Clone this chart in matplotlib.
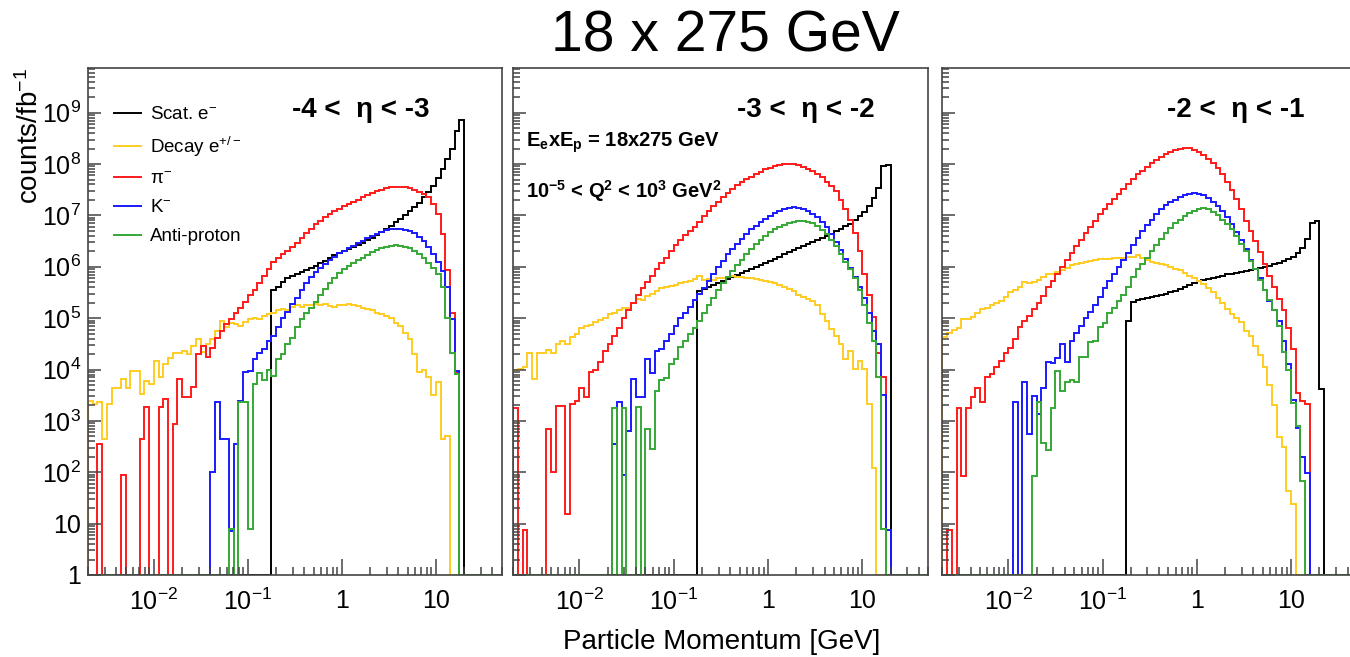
import numpy as np
import matplotlib
matplotlib.use("Agg")
import matplotlib.pyplot as plt
from matplotlib.ticker import LogLocator, NullFormatter

plt.rcParams["font.family"] = ["Liberation Sans", "DejaVu Sans"]
plt.rcParams["mathtext.fontset"] = "custom"
plt.rcParams["mathtext.rm"] = "Liberation Sans"
plt.rcParams["mathtext.it"] = "Liberation Sans:italic"
plt.rcParams["mathtext.bf"] = "Liberation Sans:bold"
plt.rcParams["mathtext.default"] = "regular"

# 88 log bins, 20 per decade, from 10^-2.7 to 10^1.7 GeV
edges = np.logspace(-2.7, 1.7, 89)

# log10(counts/fb^-1) per bin, 0 = empty bin
# ---- -4 < eta < -3 ----
p1_scat = [0] * 39 + [
    5.55, 5.6, 5.7, 5.78, 5.82, 5.86, 5.9, 5.94, 5.98, 6.02,
    6.07, 6.12, 6.17, 6.22, 6.26, 6.3, 6.34, 6.38, 6.42, 6.47,
    6.52, 6.57, 6.62, 6.68, 6.74, 6.8, 6.87, 6.94, 7.01, 7.08,
    7.16, 7.25, 7.35, 7.46, 7.58, 7.72, 7.9, 8.1, 8.3, 8.65,
    8.85] + [0] * 8
p1_decay = [
    3.39, 3.33, 3.36, 2.65, 3.33, 3.65, 3.65, 3.81, 3.65, 3.98, 3.98,
    3.52, 3.78, 3.72, 4.16, 3.85, 4.11, 4.22, 4.33, 4.33, 4.37, 4.3,
    4.45, 4.6, 4.35, 4.5, 4.6, 4.75, 4.95, 4.82, 4.9, 4.88, 4.85,
    4.92, 4.98, 5.0, 4.98, 5.05, 5.08, 5.1, 5.15, 5.18, 5.15, 5.22,
    5.25, 5.22, 5.26, 5.25, 5.28, 5.26, 5.28, 5.24, 5.22, 5.25, 5.26,
    5.28, 5.25, 5.24, 5.2, 5.18, 5.15, 5.1, 5.08, 5.05, 5.0, 4.9,
    4.85, 4.72, 4.6, 4.3, 3.95, 4.0, 3.85, 3.5, 3.75, 2.65, 2.7,
    0, 0, 0, 0, 0, 0, 0, 0, 0, 0, 0]
p1_pion = [
    0, 0, 2.55, 0, 0, 0, 0, 1.94, 0, 0, 0,
    2.65, 3.27, 0, 0, 3.27, 3.42, 0, 2.94, 3.81, 3.46, 3.46,
    3.66, 4.3, 4.45, 4.25, 4.42, 4.62, 4.75, 4.88, 4.98, 5.1, 5.2,
    5.32, 5.45, 5.55, 5.68, 5.82, 5.96, 6.1, 6.17, 6.24, 6.31, 6.38,
    6.47, 6.56, 6.65, 6.74, 6.83, 6.9, 6.96, 7.02, 7.08, 7.13, 7.18,
    7.23, 7.27, 7.31, 7.35, 7.39, 7.43, 7.47, 7.5, 7.53, 7.55, 7.56,
    7.56, 7.55, 7.53, 7.5, 7.46, 7.41, 7.35, 7.22, 7.03, 6.64, 5.93,
    5.1, 3.95, 0, 0, 0, 0, 0, 0, 0, 0, 0]
p1_kaon = [0] * 26 + [
    2.0, 3.36, 2.65, 2.65, 0.86, 2.55, 3.39,
    3.96, 3.98, 4.2, 4.33, 4.4, 4.55, 4.65, 4.82, 5.0, 5.12, 5.27,
    5.4, 5.55, 5.68, 5.8, 5.9, 5.98, 6.06, 6.13, 6.2, 6.26, 6.31,
    6.36, 6.41, 6.46, 6.51, 6.56, 6.6, 6.64, 6.68, 6.71, 6.73, 6.74,
    6.74, 6.72, 6.69, 6.65, 6.58, 6.5, 6.38, 6.25, 6.1, 5.92, 5.6,
    4.99, 3.98] + [0] * 9
p1_pbar = [0] * 30 + [
    0.89, 0, 3.36,
    3.36, 0.89, 3.72, 3.94, 3.8, 4.0, 3.88, 4.2, 4.3, 4.5, 4.62,
    4.82, 4.98, 5.1, 5.2, 5.32, 5.45, 5.57, 5.68, 5.78, 5.87, 5.95,
    6.02, 6.08, 6.13, 6.18, 6.23, 6.28, 6.32, 6.36, 6.39, 6.41, 6.42,
    6.41, 6.39, 6.36, 6.31, 6.25, 6.17, 6.08, 5.98, 5.85, 5.6, 5.0,
    4.33, 3.92] + [0] * 9

# ---- -3 < eta < -2 ----
p2_scat = [0] * 39 + [
    5.52, 5.56, 5.6, 5.64, 5.68,
    5.72, 5.76, 5.8, 5.84, 5.88, 5.92, 5.96, 6.0, 6.04, 6.08, 6.12,
    6.16, 6.2, 6.24, 6.28, 6.32, 6.36, 6.4, 6.44, 6.48, 6.52, 6.56,
    6.6, 6.64, 6.69, 6.74, 6.79, 6.84, 6.91, 6.98, 7.07, 7.18, 7.33,
    7.53, 7.96, 7.99] + [0] * 8
p2_decay = [
    4.0, 4.02, 4.05, 4.33, 3.81, 4.33, 4.32, 4.38, 4.33, 4.5, 4.55,
    4.5, 4.63, 4.7, 4.8, 4.84, 4.87, 4.92, 4.96, 5.0, 5.08, 5.1,
    5.15, 5.2, 5.2, 5.3, 5.38, 5.36, 5.44, 5.48, 5.52, 5.58, 5.6,
    5.62, 5.65, 5.68, 5.7, 5.72, 5.76, 5.83, 5.74, 5.76, 5.75, 5.78,
    5.79, 5.8, 5.82, 5.8, 5.8, 5.79, 5.78, 5.77, 5.75, 5.72, 5.7,
    5.68, 5.65, 5.61, 5.57, 5.52, 5.46, 5.42, 5.38, 5.33, 5.25, 5.08,
    4.95, 4.78, 4.65, 4.5, 4.2, 4.37, 4.01, 4.17, 4.01, 3.33, 2.09,
    0, 0, 0, 0, 0, 0, 0, 0, 0, 0, 0]
p2_pion = [
    3.26, 0, 0.87, 0, 0, 0, 0, 2.84, 2.0, 3.29, 3.29,
    1.18, 3.32, 3.38, 3.64, 3.46, 3.95, 4.0, 4.15, 4.37, 4.5, 4.65,
    4.8, 5.0, 5.15, 5.3, 5.45, 5.58, 5.7, 5.82, 5.95, 6.07, 6.18,
    6.3, 6.42, 6.52, 6.62, 6.7, 6.78, 6.88, 6.98, 7.08, 7.18, 7.27,
    7.36, 7.44, 7.52, 7.59, 7.65, 7.7, 7.75, 7.8, 7.85, 7.9, 7.93,
    7.96, 7.98, 8.0, 8.01, 8.0, 7.98, 7.95, 7.91, 7.86, 7.8, 7.74,
    7.66, 7.57, 7.47, 7.3, 7.12, 6.92, 6.65, 6.3, 5.85, 5.45, 5.02,
    4.33, 3.85, 0, 0, 0, 0, 0, 0, 0, 0, 0]
p2_kaon = [0] * 21 + [
    2.55,
    3.36, 1.95, 2.81, 3.81, 3.46, 3.46, 4.2, 3.94, 4.37, 4.4, 4.55,
    4.7, 4.85, 5.0, 5.1, 5.22, 5.35, 5.47, 5.58, 5.72, 5.86, 5.99,
    6.12, 6.24, 6.34, 6.45, 6.55, 6.64, 6.73, 6.8, 6.87, 6.93, 6.99,
    7.04, 7.08, 7.12, 7.15, 7.16, 7.15, 7.12, 7.08, 7.03, 6.96, 6.87,
    6.78, 6.64, 6.48, 6.32, 6.16, 5.98, 5.8, 5.6, 5.4, 5.1, 4.75,
    4.5, 3.5, 0.88] + [0] * 8
p2_pbar = [0] * 21 + [
    3.26,
    0, 3.26, 0, 0, 3.28, 0, 2.84, 2.45, 3.59, 3.8, 3.83,
    4.1, 4.2, 4.43, 4.55, 4.7, 4.8, 4.95, 5.1, 5.25, 5.4, 5.55,
    5.68, 5.8, 5.92, 6.03, 6.14, 6.25, 6.35, 6.44, 6.52, 6.6, 6.67,
    6.73, 6.78, 6.82, 6.86, 6.88, 6.9, 6.9, 6.88, 6.85, 6.8, 6.72,
    6.63, 6.52, 6.4, 6.25, 6.1, 5.95, 5.78, 5.55, 5.25, 4.9, 4.55,
    3.85, 0.89] + [0] * 9

# ---- -2 < eta < -1 ----
p3_scat = [0] * 39 + [
    4.95, 5.32, 5.35, 5.37, 5.39,
    5.41, 5.43, 5.45, 5.47, 5.5, 5.53, 5.57, 5.6, 5.65, 5.69, 5.72,
    5.75, 5.77, 5.79, 5.81, 5.83, 5.85, 5.86, 5.88, 5.9, 5.92, 5.94,
    5.96, 5.97, 5.99, 6.02, 6.05, 6.08, 6.12, 6.16, 6.2, 6.26, 6.36,
    6.55, 6.85, 6.9, 3.62] + [0] * 7
p3_decay = [
    4.63, 4.72, 4.76, 4.8, 4.98, 4.98, 5.02, 5.1, 5.18, 5.2, 5.26,
    5.3, 5.34, 5.42, 5.5, 5.54, 5.6, 5.7, 5.68, 5.7, 5.74, 5.8,
    5.86, 5.86, 5.9, 5.94, 5.98, 6.04, 6.06, 6.08, 6.1, 6.12, 6.14,
    6.15, 6.15, 6.16, 6.17, 6.18, 6.18, 6.2, 6.2, 6.22, 6.18, 6.13,
    6.1, 6.08, 6.06, 6.04, 6.0, 5.96, 5.93, 5.88, 5.83, 5.78, 5.73,
    5.66, 5.58, 5.5, 5.4, 5.3, 5.18, 5.08, 5.0, 4.92, 4.75, 4.65,
    4.45, 4.28, 4.04, 3.7, 3.3, 2.68, 2.5, 1.64, 1.38, 0, 0,
    0, 0, 0, 0, 0, 0, 0, 0, 0, 0, 0]
p3_pion = [
    0, 0.87, 0, 3.26, 1.93, 3.26, 3.46, 3.65, 3.36, 3.85, 3.92,
    4.05, 4.17, 4.33, 4.42, 4.6, 4.82, 4.95, 5.05, 5.18, 5.3, 5.44,
    5.6, 5.72, 5.86, 6.0, 6.13, 6.27, 6.4, 6.53, 6.65, 6.78, 6.9,
    7.02, 7.12, 7.22, 7.32, 7.42, 7.52, 7.62, 7.71, 7.8, 7.87, 7.95,
    8.02, 8.08, 8.14, 8.19, 8.24, 8.27, 8.3, 8.32, 8.31, 8.28, 8.23,
    8.17, 8.1, 8.02, 7.92, 7.8, 7.66, 7.5, 7.32, 7.12, 6.9, 6.7,
    6.5, 6.28, 6.06, 5.83, 5.6, 5.37, 5.15, 4.8, 4.4, 3.55, 3.39,
    3.33, 0, 0, 0, 0, 0, 0, 0, 0, 0, 0]
p3_kaon = [0] * 15 + [
    3.36, 0, 3.75, 2.74, 3.49, 3.13, 3.65,
    4.14, 4.12, 4.22, 4.5, 4.14, 4.55, 4.72, 4.85, 5.0, 5.12, 5.25,
    5.42, 5.58, 5.73, 5.86, 6.0, 6.13, 6.27, 6.42, 6.56, 6.7, 6.82,
    6.92, 7.02, 7.12, 7.2, 7.26, 7.31, 7.35, 7.39, 7.42, 7.43, 7.42,
    7.39, 7.34, 7.27, 7.18, 7.08, 6.96, 6.83, 6.68, 6.52, 6.34, 6.14,
    5.95, 5.78, 5.55, 5.34, 5.15, 4.95, 4.55, 4.1, 3.4, 2.87, 2.3,
    1.99] + [0] * 10
p3_pbar = [0] * 19 + [
    1.93, 3.36, 2.56,
    2.43, 3.26, 3.98, 3.59, 3.75, 3.8, 3.75, 4.24, 4.24, 4.53, 4.55,
    4.82, 4.9, 5.11, 5.2, 5.34, 5.45, 5.6, 5.8, 5.95, 6.05, 6.17,
    6.3, 6.42, 6.55, 6.66, 6.76, 6.85, 6.92, 6.98, 7.04, 7.09, 7.13,
    7.14, 7.12, 7.07, 7.0, 6.92, 6.83, 6.73, 6.6, 6.45, 6.3, 6.12,
    5.95, 5.75, 5.55, 5.35, 5.15, 4.85, 4.35, 4.0, 3.35, 2.9, 1.83] + [0] * 11

eta_labels = ["-4 <  \u03b7 < -3", "-3 <  \u03b7 < -2", "-2 <  \u03b7 < -1"]
eta_pos = [0.66, 0.706, 0.708]
species = ["Scat. e$^{-}$", "Decay e$^{+/-}$", "$\\pi^{-}$", "K$^{-}$", "Anti-proton"]
colors = ["black", "#FFCC22", "#FF1A1A", "#1A1AFF", "#35A835"]
panels = [
    [p1_scat, p1_decay, p1_pion, p1_kaon, p1_pbar],
    [p2_scat, p2_decay, p2_pion, p2_kaon, p2_pbar],
    [p3_scat, p3_decay, p3_pion, p3_kaon, p3_pbar],
]

yticks = [10.0 ** k for k in range(10)]
ytick_labels = ["1", "10"] + ["$10^{%d}$" % k for k in range(2, 10)]
xticks = [1e-2, 1e-1, 1, 10]
xtick_labels = ["$10^{-2}$", "$10^{-1}$", "1", "10"]

W, H = 1350, 657
fig = plt.figure(figsize=(W / 100, H / 100), dpi=100)
frames = [(88, 413.6), (513.3, 415), (942.4, 414.5)]  # left edge, width in px

for n, (x0, w) in enumerate(frames):
    ax = fig.add_axes([x0 / W, 82 / H, w / W, 507 / H])
    for vals, col, lab in zip(panels[n], colors, species):
        assert len(vals) == 88
        ax.stairs(10.0 ** np.array(vals), edges, baseline=1, color=col,
                  lw=1.4, label=lab)
    ax.set_xscale("log")
    ax.set_yscale("log")
    ax.set_xlim(edges[0], edges[-1])
    ax.set_ylim(1, 10 ** 9.87)

    ax.set_xticks(xticks, xtick_labels)
    ax.set_yticks(yticks, ytick_labels)
    ax.xaxis.set_minor_locator(LogLocator(base=10, subs=np.arange(2, 10), numticks=50))
    ax.yaxis.set_minor_locator(LogLocator(base=10, subs=np.arange(2, 10), numticks=50))
    ax.xaxis.set_minor_formatter(NullFormatter())
    ax.yaxis.set_minor_formatter(NullFormatter())
    ax.tick_params(axis="both", which="both", direction="in", color="#444444",
                   width=1.1, labelsize=18)
    ax.tick_params(axis="x", which="major", length=11.5, pad=10)
    ax.tick_params(axis="x", which="minor", length=6)
    ax.tick_params(axis="y", which="major", length=9, pad=5)
    ax.tick_params(axis="y", which="minor", length=5)
    if n > 0:
        ax.tick_params(axis="y", labelleft=False)
    for sp in ax.spines.values():
        sp.set_color("#444444")
        sp.set_linewidth(1.2)

    ax.text(eta_pos[n], 0.918, eta_labels[n], transform=ax.transAxes, ha="center",
            va="center", fontsize=20, fontweight="bold")

    if n == 0:
        ax.legend(loc="upper left", bbox_to_anchor=(0.063, 0.925), frameon=False,
                  fontsize=13.5, handlelength=1.45, handletextpad=0.45,
                  labelspacing=0.62, borderpad=0, borderaxespad=0)
    if n == 1:
        ax.text(0.03, 0.853, "E$_{e}$xE$_{p}$ = 18x275 GeV", transform=ax.transAxes,
                ha="left", va="center", fontsize=14.5, fontweight="bold")
        ax.text(0.03, 0.757, "10$^{-5}$ < Q$^{2}$ < 10$^{3}$ GeV$^{2}$",
                transform=ax.transAxes, ha="left", va="center", fontsize=14.5,
                fontweight="bold")

fig.text(725 / W, 1 - 37 / H, "18 x 275 GeV", ha="center", va="center", fontsize=41)
fig.text(30 / W, 1 - 68 / H, "counts/fb$^{-1}$", rotation=90, ha="center",
         va="top", fontsize=20)
fig.text(722 / W, 1 - 642 / H, "Particle Momentum [GeV]", ha="center",
         va="center", fontsize=20)

fig.savefig("out.png", dpi=100)
